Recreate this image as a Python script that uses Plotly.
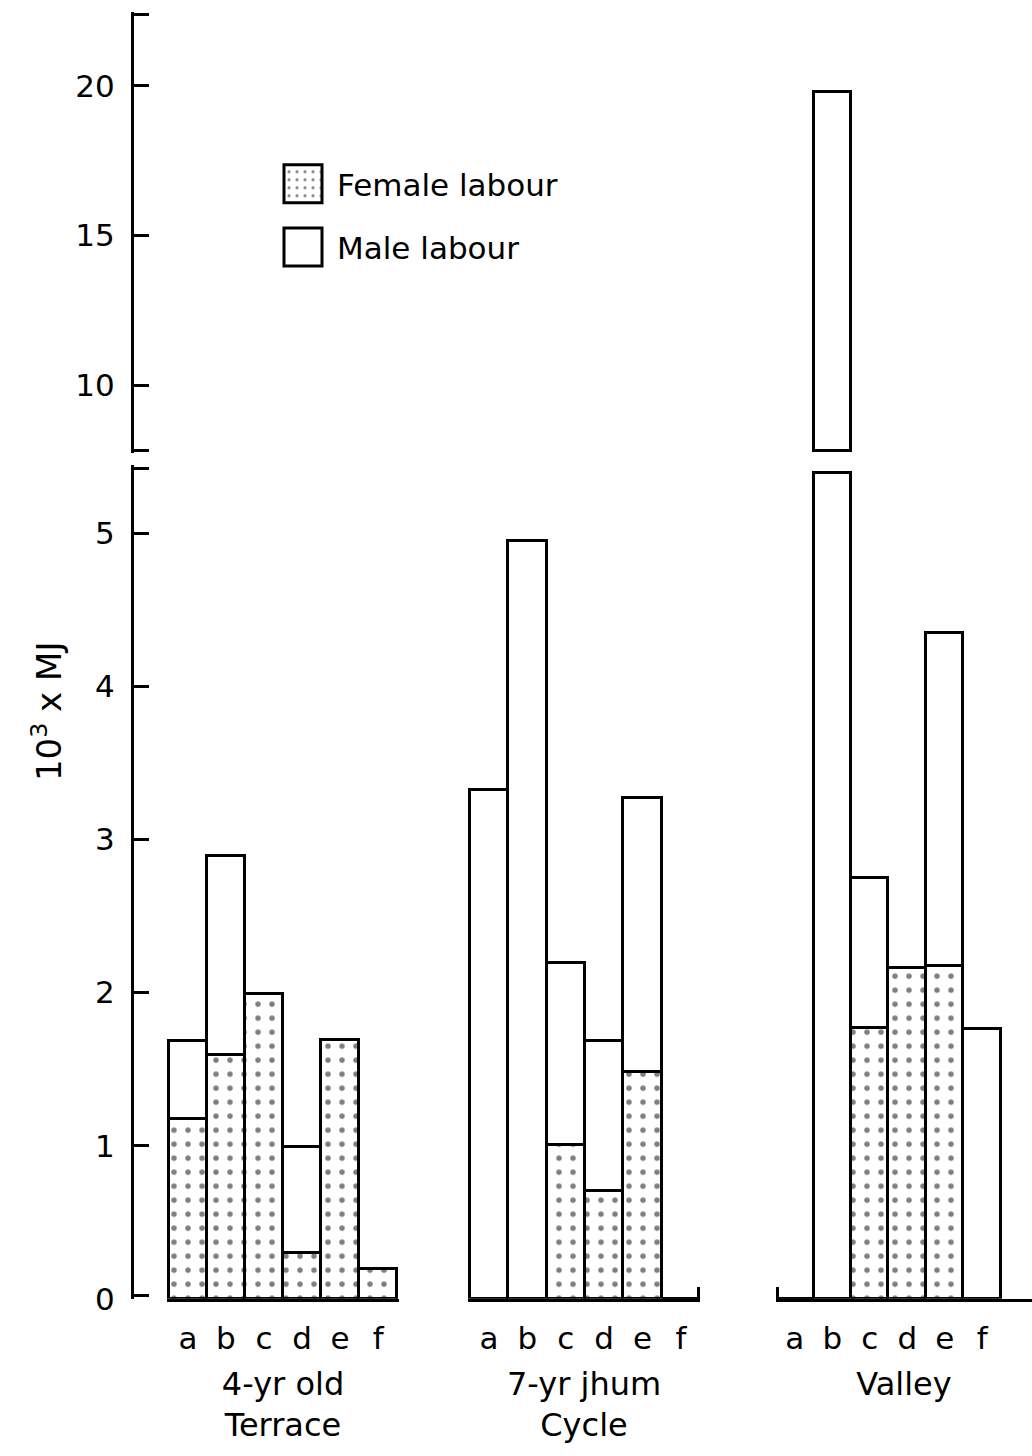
import plotly.graph_objects as go

# ---------------- data (10^3 x MJ) ----------------
categories = ["a", "b", "c", "d", "e", "f"]
group_names = ["4-yr old<br>Terrace", "7-yr jhum<br>Cycle", "Valley"]

female_terrace = [1.17, 1.59, 1.99, 0.30, 1.69, 0.19]
male_terrace = [0.51, 1.30, 0.00, 0.69, 0.00, 0.00]

female_jhum = [0.00, 0.00, 1.00, 0.70, 1.48, 0.00]
male_jhum = [3.32, 4.95, 1.19, 0.98, 1.79, 0.00]

female_valley = [0.00, 0.00, 1.77, 2.16, 2.17, 0.00]
male_valley = [0.00, 19.80, 0.98, 0.00, 2.18, 1.76]

lower_ticks = [0, 1, 2, 3, 4, 5]
upper_ticks = [10, 15, 20]

# ---------------- broken-axis settings ----------------
LOWER_RANGE = [0, 5.445]
LOWER_CAP = 5.39          # bars taller than this are cut in the lower panel
UPPER_RANGE = [7.723, 22.475]
UPPER_BASE = 7.80         # cut bars restart here in the upper panel

W, H = 1032, 1456
FONT = "DejaVu Sans"
INK = "black"

females = [female_terrace, female_jhum, female_valley]
males = [male_terrace, male_jhum, male_valley]
xpos = list(range(len(categories)))

fig = go.Figure()

pattern = dict(shape=".", fgcolor=INK, bgcolor="white", size=14, solidity=0.12,
               fillmode="overlay")

for gi, (fem, mal) in enumerate(zip(females, males)):
    xa = ["x", "x2", "x3"][gi]
    tot = [f + m for f, m in zip(fem, mal)]
    male_low = [max(min(t, LOWER_CAP) - f, 0) for t, f in zip(tot, fem)]
    fig.add_trace(go.Bar(
        x=xpos, y=fem, xaxis=xa, yaxis="y", name="Female labour",
        legendgroup="female", showlegend=(gi == 0),
        marker=dict(color="white", pattern=pattern, line=dict(color=INK, width=3)),
        hoverinfo="skip"))
    fig.add_trace(go.Bar(
        x=xpos, y=male_low, xaxis=xa, yaxis="y", name="Male labour",
        legendgroup="male", showlegend=(gi == 0),
        marker=dict(color="white", line=dict(color=INK, width=3)),
        hoverinfo="skip"))
    # upper (broken) panel: only the bars that exceed the lower panel
    upper_vals = [t - UPPER_BASE if t > LOWER_CAP else None for t in tot]
    if any(v is not None for v in upper_vals):
        fig.add_trace(go.Bar(
            x=xpos, y=upper_vals, base=UPPER_BASE, xaxis="x4", yaxis="y2",
            name="Male labour", legendgroup="male", showlegend=False,
            marker=dict(color="white", line=dict(color=INK, width=3)),
            hoverinfo="skip"))


def px_x(p):
    return p / W


def px_y(p):
    return 1 - p / H


lower_dom = [px_y(1315), px_y(471)]
upper_dom = [px_y(459), px_y(12)]

tickfont = dict(family=FONT, size=31, color=INK)

common_x = dict(
    showline=True, linecolor=INK, linewidth=3, showgrid=False, zeroline=False,
    tickmode="array", tickvals=xpos, ticktext=categories, ticks="",
    tickfont=tickfont, anchor="y", ticklabelstandoff=10,
    title=dict(font=dict(family=FONT, size=32, color=INK), standoff=18),
)

common_y = dict(
    anchor="free", position=px_x(132), side="left", showline=True,
    linecolor=INK, linewidth=3, showgrid=False, zeroline=False,
    tickmode="array", ticks="inside", ticklen=15, tickwidth=3, tickcolor=INK,
    ticklabelstandoff=10, tickfont=tickfont,
)

fig.update_layout(
    width=W, height=H,
    margin=dict(l=0, r=0, t=0, b=0),
    paper_bgcolor="white", plot_bgcolor="white",
    barmode="stack", bargap=0,
    font=dict(family=FONT, color=INK),
    xaxis=dict(common_x, domain=[px_x(167), px_x(399)], range=[-0.55, 5.55],
               title_text=group_names[0]),
    xaxis2=dict(common_x, domain=[px_x(468), px_x(700)], range=[-0.55, 5.5],
                title_text=group_names[1],
                minor=dict(tickmode="array", tickvals=[5.46], ticks="inside",
                           ticklen=12, tickwidth=3, tickcolor=INK)),
    xaxis3=dict(common_x, domain=[px_x(776), 1.0], range=[-0.5, 6.327],
                title_text=group_names[2],
                minor=dict(tickmode="array", tickvals=[-0.46], ticks="inside",
                           ticklen=12, tickwidth=3, tickcolor=INK)),
    xaxis4=dict(domain=[px_x(776), 1.0], range=[-0.5, 6.327], anchor="y2",
                visible=False, showgrid=False, zeroline=False),
    yaxis=dict(
        common_y, domain=lower_dom, range=LOWER_RANGE,
        tickvals=lower_ticks, ticktext=[str(t) for t in lower_ticks],
        minor=dict(tickmode="array",
                   tickvals=[LOWER_RANGE[0] + 0.02, LOWER_RANGE[1] - 0.02],
                   ticks="inside", ticklen=15, tickwidth=3, tickcolor=INK)),
    yaxis2=dict(
        common_y, domain=upper_dom, range=UPPER_RANGE,
        tickvals=upper_ticks, ticktext=[str(t) for t in upper_ticks],
        minor=dict(tickmode="array",
                   tickvals=[UPPER_RANGE[0] + 0.1, UPPER_RANGE[1] - 0.1],
                   ticks="inside", ticklen=15, tickwidth=3, tickcolor=INK)),
    legend=dict(
        x=px_x(297), y=px_y(159), xanchor="left", yanchor="top",
        traceorder="grouped", tracegroupgap=20,
        font=dict(family=FONT, size=31, color=INK),
        bgcolor="rgba(0,0,0,0)", borderwidth=0),
    annotations=[dict(
        text="10<sup>3</sup> x MJ", textangle=-90, xref="paper", yref="paper",
        x=px_x(47), y=px_y(720), xanchor="center", yanchor="middle",
        showarrow=False, font=dict(family=FONT, size=34, color=INK))],
)

# enlarge the legend swatches to the size used in the printed figure
post = """
var gd = document.getElementById('{plot_id}');
function bigSwatches(){
  gd.querySelectorAll('g.legend [clip-path]').forEach(function(e){
    e.removeAttribute('clip-path');
  });
  var lg = gd.querySelector('g.legend');
  if (lg) lg.removeAttribute('clip-path');
  gd.querySelectorAll('g.legend g.legendpoints path').forEach(function(p){
    p.setAttribute('d', 'M5,19H-33V-19H5Z');
    p.style.strokeWidth = '3px';
  });
}
bigSwatches();
gd.on('plotly_afterplot', bigSwatches);
"""

fig.write_html("out.html", post_script=post)
